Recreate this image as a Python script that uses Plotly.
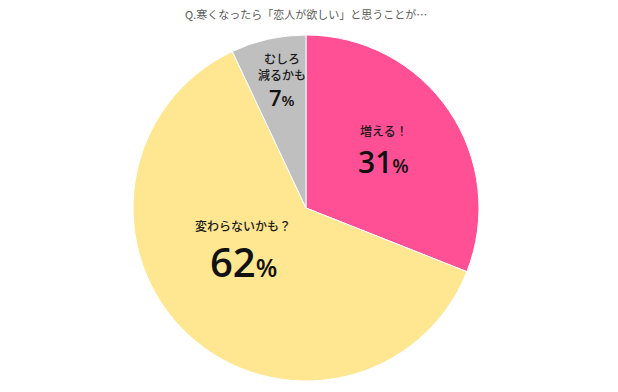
import plotly.graph_objects as go

categories = ["増える！", "変わらないかも？", "むしろ<br>減るかも"]
values = [31, 62, 7]
colors = ["#FF5096", "#FFE690", "#BFBFBF"]
title_text = "Q.寒くなったら「恋人が欲しい」と思うことが…"

W, H = 618, 392
cx, cy, r = 306, 208, 173

fig = go.Figure(go.Pie(
    labels=categories,
    values=values,
    sort=False,
    direction="clockwise",
    rotation=0,
    marker=dict(colors=colors, line=dict(color="white", width=1)),
    textinfo="none",
    hoverinfo="label+percent",
    showlegend=False,
    domain=dict(x=[(cx - r) / W, (cx + r) / W], y=[(H - cy - r) / H, (H - cy + r) / H]),
))

font = "Noto Sans CJK JP, Noto Sans, sans-serif"
numfont = "Open Sans, Noto Sans, sans-serif"

def px(x, y):
    return x / W, 1 - y / H

annots = []
label_pos = [(384, 130), (243, 225), (282, 66)]
pct_pos = [(384, 161), (243, 261), (282, 97)]
num_sizes = [30, 40, 22]
pct_sizes = [19, 25, 15]
for cat, v, lp, pp, ns, ps in zip(categories, values, label_pos, pct_pos, num_sizes, pct_sizes):
    x, y = px(*lp)
    annots.append(dict(x=x, y=y, xref="paper", yref="paper", text=cat, showarrow=False,
                       font=dict(family=font, size=12, color="#1a1a1a", weight=500), xanchor="center", yanchor="middle"))
    x, y = px(*pp)
    annots.append(dict(x=x, y=y, xref="paper", yref="paper",
                       text=f"<span style='font-size:{ns}px'>{v}</span><span style='font-size:{ps}px'>%</span>",
                       showarrow=False, font=dict(family=numfont, size=ns, color="#111111", weight=600),
                       xanchor="center", yanchor="middle"))

x, y = px(306, 14)
annots.append(dict(x=x, y=y, xref="paper", yref="paper", text=title_text, showarrow=False,
                   font=dict(family=font, size=11, color="#595959"), xanchor="center", yanchor="middle"))

fig.update_layout(
    width=W, height=H,
    margin=dict(l=0, r=0, t=0, b=0),
    paper_bgcolor="white",
    plot_bgcolor="white",
    annotations=annots,
)

fig.write_html("out.html", config={"displayModeBar": False},
               post_script="document.body.style.margin='0';document.body.style.overflow='hidden';")
